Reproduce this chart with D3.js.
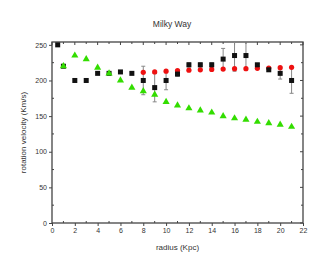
<!DOCTYPE html>
<html>
<head>
<meta charset="utf-8">
<script src="https://cdn.jsdelivr.net/npm/d3@7"></script>
<style>
  body { margin: 0; background: #fff; }
  text { font-family: Arial, "Liberation Sans", sans-serif; fill: #333; }
</style>
</head>
<body>
<div id="chart"></div>
<script>
var width = 327;
var height = 269;

// observed (black squares)
var obsR = [0.5, 1, 2, 3, 4, 5, 6, 7, 8, 9, 10, 11, 12, 13, 14, 15, 16, 17, 18, 19, 20, 21];
var obsV = [250, 220, 200, 200, 210, 210, 212, 210, 200, 190, 200, 209, 222, 222, 222, 230, 235, 235, 222, 215, 210, 200];
var obsErr = [0, 0, 0, 0, 0, 0, 0, 0, 20, 20, 13, 3, 3, 3, 3, 15, 22, 20, 2, 2, 8, 18];

// model (red circles)
var modR = [8, 9, 10, 11, 12, 13, 14, 15, 16, 17, 18, 19, 20, 21];
var modV = [211.5, 212, 213, 214, 214.5, 215, 215.5, 216, 216.5, 216.5, 217, 217.5, 218, 218.5];

// keplerian (green triangles)
var kepR = [1, 2, 3, 4, 5, 6, 7, 8, 9, 10, 11, 12, 13, 14, 15, 16, 17, 18, 19, 20, 21];
var kepV = [220, 235, 230, 218, 210, 200, 190, 185, 180, 170, 165, 161, 158, 155, 150, 147, 145, 142, 140, 138, 135];

var xTicks = [0, 2, 4, 6, 8, 10, 12, 14, 16, 18, 20, 22];
var yTicks = [0, 50, 100, 150, 200, 250];

var margin = { top: 42, right: 24, bottom: 46, left: 52 };
var chartWidth = width - margin.left - margin.right;
var chartHeight = height - margin.top - margin.bottom;

var svg = d3.select('#chart').append('svg')
    .attr('width', width)
    .attr('height', height);

var g = svg.append('g')
    .attr('transform', `translate(${margin.left}, ${margin.top})`);

var xScale = d3.scaleLinear().domain([0, 22]).range([0, chartWidth]);
var yScale = d3.scaleLinear().domain([0, 254]).range([chartHeight, 0]);

// clip so error bars stop at the frame
g.append('clipPath').attr('id', 'clip')
    .append('rect').attr('width', chartWidth).attr('height', chartHeight);

var axisColor = '#444';

// bottom axis with labels
var bottomAxis = d3.axisBottom(xScale).tickValues(xTicks).tickSize(3).tickPadding(2);
var xAxis_g = g.append('g')
    .attr('transform', `translate(0, ${chartHeight})`)
    .call(bottomAxis);

var leftAxis = d3.axisLeft(yScale).tickValues(yTicks).tickSize(3).tickPadding(2);
var yAxis_g = g.append('g').call(leftAxis);

[xAxis_g, yAxis_g].forEach(function (a) {
    a.select('.domain').remove();
    a.selectAll('line').attr('stroke', axisColor);
    a.selectAll('text').style('font-size', '7px').attr('fill', '#333');
});

// minor ticks inside
var minorX = d3.range(0, 23, 1);
var minorY = d3.range(0, 255, 25);
g.append('g').selectAll('line').data(minorX.filter(d => d % 2 == 1)).enter().append('line')
    .attr('x1', d => xScale(d)).attr('x2', d => xScale(d))
    .attr('y1', chartHeight).attr('y2', chartHeight - 2)
    .attr('stroke', axisColor);
g.append('g').selectAll('line').data(minorY.filter(d => d % 50 == 25)).enter().append('line')
    .attr('x1', 0).attr('x2', 2)
    .attr('y1', d => yScale(d)).attr('y2', d => yScale(d))
    .attr('stroke', axisColor);
// top and right ticks inside
g.append('g').selectAll('line').data(minorX).enter().append('line')
    .attr('x1', d => xScale(d)).attr('x2', d => xScale(d))
    .attr('y1', 0).attr('y2', d => d % 2 == 0 ? 3 : 2)
    .attr('stroke', axisColor);
g.append('g').selectAll('line').data(minorY).enter().append('line')
    .attr('x1', chartWidth).attr('x2', d => chartWidth - (d % 50 == 0 ? 3 : 2))
    .attr('y1', d => yScale(d)).attr('y2', d => yScale(d))
    .attr('stroke', axisColor);

// frame
g.append('rect')
    .attr('width', chartWidth)
    .attr('height', chartHeight)
    .attr('fill', 'none')
    .attr('stroke', axisColor)
    .attr('stroke-width', 1.3);

var plot = g.append('g').attr('clip-path', 'url(#clip)');

var obsData = obsR.map((r, i) => ({ r: r, v: obsV[i], e: obsErr[i] }));
var errData = obsData.filter(d => d.e > 0);

// error bars
plot.selectAll('.err').data(errData).enter().append('line')
    .attr('class', 'err')
    .attr('x1', d => xScale(d.r)).attr('x2', d => xScale(d.r))
    .attr('y1', d => yScale(d.v - d.e)).attr('y2', d => yScale(d.v + d.e))
    .attr('stroke', '#888').attr('stroke-width', 1);
plot.selectAll('.capT').data(errData).enter().append('line')
    .attr('x1', d => xScale(d.r) - 2).attr('x2', d => xScale(d.r) + 2)
    .attr('y1', d => yScale(d.v + d.e)).attr('y2', d => yScale(d.v + d.e))
    .attr('stroke', '#888');
plot.selectAll('.capB').data(errData).enter().append('line')
    .attr('x1', d => xScale(d.r) - 2).attr('x2', d => xScale(d.r) + 2)
    .attr('y1', d => yScale(d.v - d.e)).attr('y2', d => yScale(d.v - d.e))
    .attr('stroke', '#888');

// red model circles
plot.selectAll('.mod').data(modR).enter().append('circle')
    .attr('cx', d => xScale(d))
    .attr('cy', (d, i) => yScale(modV[i]))
    .attr('r', 2.6)
    .attr('fill', '#ee1111');

// black squares
plot.selectAll('.obs').data(obsData).enter().append('rect')
    .attr('x', d => xScale(d.r) - 2.5)
    .attr('y', d => yScale(d.v) - 2.5)
    .attr('width', 5).attr('height', 5)
    .attr('fill', '#111');

// green triangles
var tri = d3.symbol().type(d3.symbolTriangle).size(22);
plot.selectAll('.kep').data(kepR).enter().append('path')
    .attr('d', tri)
    .attr('transform', (d, i) => `translate(${xScale(d)}, ${yScale(kepV[i])})`)
    .attr('fill', '#33dd00');

// title and labels
svg.append('text')
    .attr('x', 172).attr('y', 27)
    .attr('text-anchor', 'middle')
    .style('font-size', '8.5px')
    .text('Milky Way');

svg.append('text')
    .attr('x', margin.left + chartWidth / 2).attr('y', 250)
    .attr('text-anchor', 'middle')
    .style('font-size', '8px')
    .text('radius (Kpc)');

svg.append('text')
    .attr('transform', `translate(26, ${margin.top + chartHeight / 2}) rotate(-90)`)
    .attr('text-anchor', 'middle')
    .style('font-size', '8px')
    .text('rotation velocity  (Km/s)');
</script>
</body>
</html>
